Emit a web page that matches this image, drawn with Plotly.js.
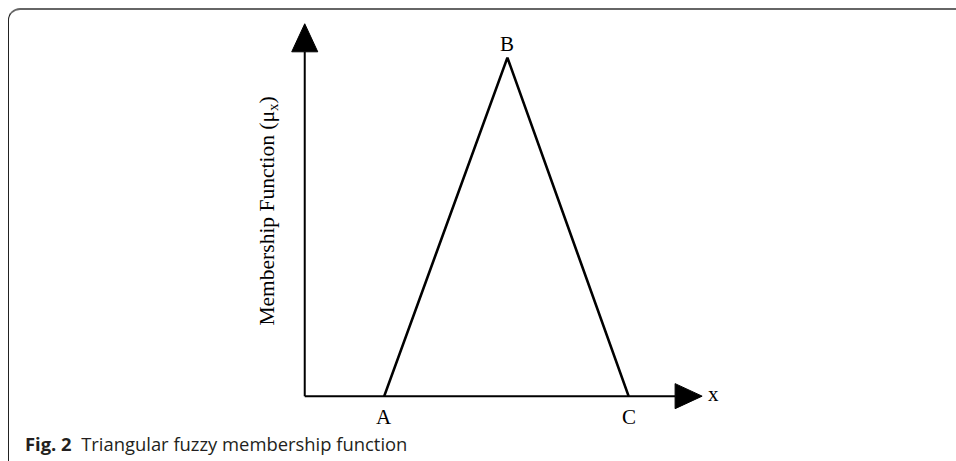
<!DOCTYPE html>
<html>
<head>
<meta charset="utf-8">
<script src="https://cdn.plot.ly/plotly-3.0.1.min.js"></script>
<style>
  html, body { margin: 0; padding: 0; background: #fff; overflow: hidden; }
  #frame {
    position: absolute; left: 8px; top: 8px; width: 1000px; height: 500px;
    border-top: 2px solid #666; border-left: 1px solid #222;
    border-top-left-radius: 12px; box-sizing: border-box;
  }
  #fuzzy-chart { position: absolute; left: 0; top: 0; width: 956px; height: 461px; }
</style>
</head>
<body>
<div id="frame"></div>
<div id="fuzzy-chart"></div>
<script>
// 삼각 퍼지 소속함수 (A, B, C)
const pointLabels = ['A', 'B', 'C'];
const xValues = [2, 5.1, 8.15];
const muValues = [0, 1, 0];

const axisLabelX = 'x';
const axisTitleY = 'Membership Function (μ<sub>x</sub>)';
const captionBold = 'Fig. 2';
const captionText = 'Triangular fuzzy membership function';

// 축 끝(화살표 끝) 위치
const xAxisEnd = 10;
const yAxisEnd = 1.1;

// 픽셀 배치: x 1단위 = 39.7px, 원점 x=305 / y 1단위 = 338px, 원점 y=396
const xRange = [-1, 10.5];
const yRange = [-0.1, 1.12];
const pxX = 39.7, pxY = 338;
const originX = 305, originY = 396;
const W = 956, H = 461;

const serif = 'Liberation Serif, Times New Roman, serif';

const trace = {
    x: xValues,
    y: muValues,
    type: 'scatter',
    mode: 'lines',
    line: { color: '#000', width: 2.6 },
    cliponaxis: false,
    hoverinfo: 'skip'
};

// 화살표 크기 (데이터 단위)
const yHeadLen = 28 / pxY, yHeadHalf = 13 / pxX;
const xHeadLen = 27 / pxX, xHeadHalf = 12.5 / pxY;

const shapes = [
    // x축
    { type: 'line', x0: 0, y0: 0, x1: xAxisEnd - xHeadLen, y1: 0,
      line: { color: '#000', width: 2 } },
    // y축
    { type: 'line', x0: 0, y0: 0, x1: 0, y1: yAxisEnd - yHeadLen,
      line: { color: '#000', width: 2 } },
    // y축 화살표
    { type: 'path',
      path: `M ${-yHeadHalf},${yAxisEnd - yHeadLen} L 0,${yAxisEnd} L ${yHeadHalf},${yAxisEnd - yHeadLen} Z`,
      fillcolor: '#000', line: { color: '#000', width: 1 } },
    // x축 화살표
    { type: 'path',
      path: `M ${xAxisEnd - xHeadLen},${-xHeadHalf} L ${xAxisEnd},0 L ${xAxisEnd - xHeadLen},${xHeadHalf} Z`,
      fillcolor: '#000', line: { color: '#000', width: 1 } }
];

// 꼭짓점 라벨
const annotations = pointLabels.map((lab, i) => ({
    x: xValues[i], y: muValues[i], text: lab, showarrow: false,
    xanchor: 'center', yanchor: 'middle',
    yshift: muValues[i] === 0 ? -21 : 14,
    font: { family: serif, size: 21, color: '#000' }
}));

annotations.push({
    x: xAxisEnd, y: 0, text: axisLabelX, showarrow: false,
    xanchor: 'left', yanchor: 'middle', xshift: 4, yshift: 2,
    font: { family: serif, size: 21, color: '#000' }
});

annotations.push({
    x: (269 - originX) / pxX, y: (originY - 211) / pxY,
    text: axisTitleY, showarrow: false, textangle: -90,
    xanchor: 'center', yanchor: 'middle',
    font: { family: serif, size: 21.5, color: '#000' }
});

// 캡션 (그림 번호)
const plotLeft = originX + xRange[0] * pxX;
const plotW = (xRange[1] - xRange[0]) * pxX;
const plotTop = originY - yRange[1] * pxY;
const plotH = (yRange[1] - yRange[0]) * pxY;
annotations.push({
    xref: 'paper', yref: 'paper',
    x: (24 - plotLeft) / plotW, y: (plotTop + plotH - 443) / plotH,
    text: `<b>${captionBold}</b>\u00a0\u00a0${captionText}`,
    showarrow: false, xanchor: 'left', yanchor: 'middle',
    font: { family: 'Open Sans, Noto Sans, sans-serif', size: 18.4, color: '#231f20' }
});

const layout = {
    width: W,
    height: H,
    margin: { l: plotLeft, r: W - plotLeft - plotW, t: plotTop, b: H - plotTop - plotH, pad: 0 },
    paper_bgcolor: 'rgba(0,0,0,0)',
    plot_bgcolor: 'rgba(0,0,0,0)',
    showlegend: false,
    xaxis: { range: xRange, visible: false, fixedrange: true },
    yaxis: { range: yRange, visible: false, fixedrange: true },
    shapes: shapes,
    annotations: annotations
};

Plotly.newPlot('fuzzy-chart', [trace], layout, {
    staticPlot: true,
    displayModeBar: false
});
</script>
</body>
</html>
